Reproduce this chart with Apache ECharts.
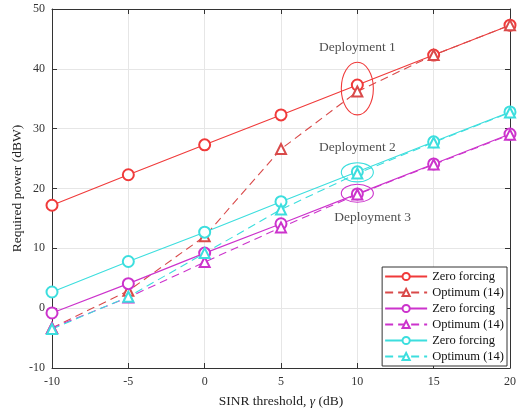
<!DOCTYPE html>
<html><head><meta charset="utf-8">
<script src="https://cdn.jsdelivr.net/npm/echarts@6/dist/echarts.min.js"></script>
<style>html,body{margin:0;padding:0;background:#fff}#c{width:517px;height:412px}</style>
</head><body><div id="c"></div>
<script>
const sinr = [-10, -5, 0, 5, 10, 15, 20];
const zf1  = [17.2, 22.3, 27.3, 32.3, 37.3, 42.3, 47.3];
const opt1 = [-3.3, 2.9, 12.0, 26.6, 36.2, 42.3, 47.3];
const zf3  = [-0.8, 4.1, 9.2, 14.1, 19.1, 24.1, 29.1];
const opt3 = [-3.3, 1.8, 7.7, 13.5, 19.0, 24.0, 29.0];
const zf2  = [2.7, 7.8, 12.7, 17.8, 22.8, 27.8, 32.8];
const opt2 = [-3.5, 1.9, 9.2, 16.5, 22.5, 27.7, 32.7];
const legendLabels = ['Zero forcing','Optimum (14)','Zero forcing','Optimum (14)','Zero forcing','Optimum (14)'];
const seriesKeys = ['zf1','opt1','zf3','opt3','zf2','opt2'];
// annotations: [x, y, label]
const deployLabels = [[10, 43.5, 'Deployment 1'], [10, 26.8, 'Deployment 2'], [11, 15.2, 'Deployment 3']];
// ellipses: [x, y, rx(data), ry(data)]
const ellipses1 = [[10, 36.7, 1.05, 4.4]];
const ellipses2 = [[10, 22.7, 1.05, 1.6]];
const ellipses3 = [[10, 19.2, 1.05, 1.5]];

const RED = '#f03a3a', RED_D = '#d94a4a', MAG = '#cc33cc', CYA = '#3cdede';
const font = 'Liberation Serif';
function pts(a){ return sinr.map((x,i)=>[x,a[i]]); }
function ln(key, data, color, dashed, sym){
  return {name:key, type:'line', data:pts(data), symbol:sym, symbolSize: sym==='emptyCircle'?11:10,
    lineStyle:{color, width:1.1, type: dashed?[8,5]:'solid'}, itemStyle:{color, borderWidth:1},
    emphasis:{disabled:true}, z: 3};
}
function ell(data, color){
  return {type:'custom', data, silent:true, z:4, renderItem(params, api){
    const c = api.coord([api.value(0), api.value(1)]);
    const e = api.coord([api.value(0)+api.value(2), api.value(1)+api.value(3)]);
    return {type:'ellipse', shape:{cx:c[0], cy:c[1], rx:Math.abs(e[0]-c[0]), ry:Math.abs(c[1]-e[1])},
      style:{fill:'none', stroke:color, lineWidth:1.1}};
  }};
}
const axLine = {onZero:false, lineStyle:{color:'#333'}};
const chart = echarts.init(document.getElementById('c'));
chart.setOption({
  animation:false,
  grid:{left:52, right:7, top:9, bottom:44, containLabel:false, outerBoundsMode:'none'},
  xAxis:[{type:'value', min:-10, max:20, interval:5,
    axisLine:axLine, axisTick:{inside:true, length:5, lineStyle:{color:'#333'}},
    axisLabel:{color:'#333', fontFamily:font, fontSize:12, margin:8},
    splitLine:{lineStyle:{color:'#e6e6e6'}},
    name:'{a|SINR threshold, }{g|γ}{a| (dB)}', nameLocation:'middle', nameGap:26, nameMoveOverlap:false,
    nameTextStyle:{rich:{a:{fontFamily:font, fontSize:13.5, color:'#222'}, g:{fontFamily:font, fontSize:13.5, fontStyle:'italic', color:'#222'}}}},
   {type:'value', position:'top', min:-10, max:20, interval:5,
    axisLine:axLine, axisTick:{inside:true, length:5, lineStyle:{color:'#333'}},
    axisLabel:{show:false}, splitLine:{show:false}}],
  yAxis:[{type:'value', min:-10, max:50, interval:10,
    axisLine:axLine, axisTick:{inside:true, length:5, lineStyle:{color:'#333'}},
    axisLabel:{color:'#333', fontFamily:font, fontSize:12, margin:7},
    splitLine:{lineStyle:{color:'#e6e6e6'}},
    name:'Required power (dBW)', nameLocation:'middle', nameGap:28, nameMoveOverlap:false,
    nameTextStyle:{fontFamily:font, fontSize:13.5, color:'#222'}},
   {type:'value', position:'right', min:-10, max:50, interval:10,
    axisLine:axLine, axisTick:{inside:true, length:5, lineStyle:{color:'#333'}},
    axisLabel:{show:false}, splitLine:{show:false}}],
  legend:{orient:'vertical', right:10, bottom:46, data:seriesKeys,
    formatter:(n)=>legendLabels[seriesKeys.indexOf(n)],
    itemWidth:42, itemHeight:9, itemGap:3, padding:[3,3,3,2],
    backgroundColor:'#fff', borderColor:'#333', borderWidth:1, borderRadius:0,
    textStyle:{fontFamily:font, fontSize:12.5, color:'#111'}},
  series:[
    ln('zf1', zf1, RED, false, 'emptyCircle'),
    ln('opt1', opt1, RED_D, true, 'emptyTriangle'),
    ln('zf3', zf3, MAG, false, 'emptyCircle'),
    ln('opt3', opt3, MAG, true, 'emptyTriangle'),
    ln('zf2', zf2, CYA, false, 'emptyCircle'),
    ln('opt2', opt2, CYA, true, 'emptyTriangle'),
    ell(ellipses1, RED), ell(ellipses2, CYA), ell(ellipses3, MAG),
    {type:'scatter', data:deployLabels, symbolSize:0, silent:true, z:5,
      label:{show:true, position:'inside', formatter:(p)=>p.value[2], fontFamily:font, fontSize:13.5, color:'#222'}}
  ]
});
</script></body></html>
